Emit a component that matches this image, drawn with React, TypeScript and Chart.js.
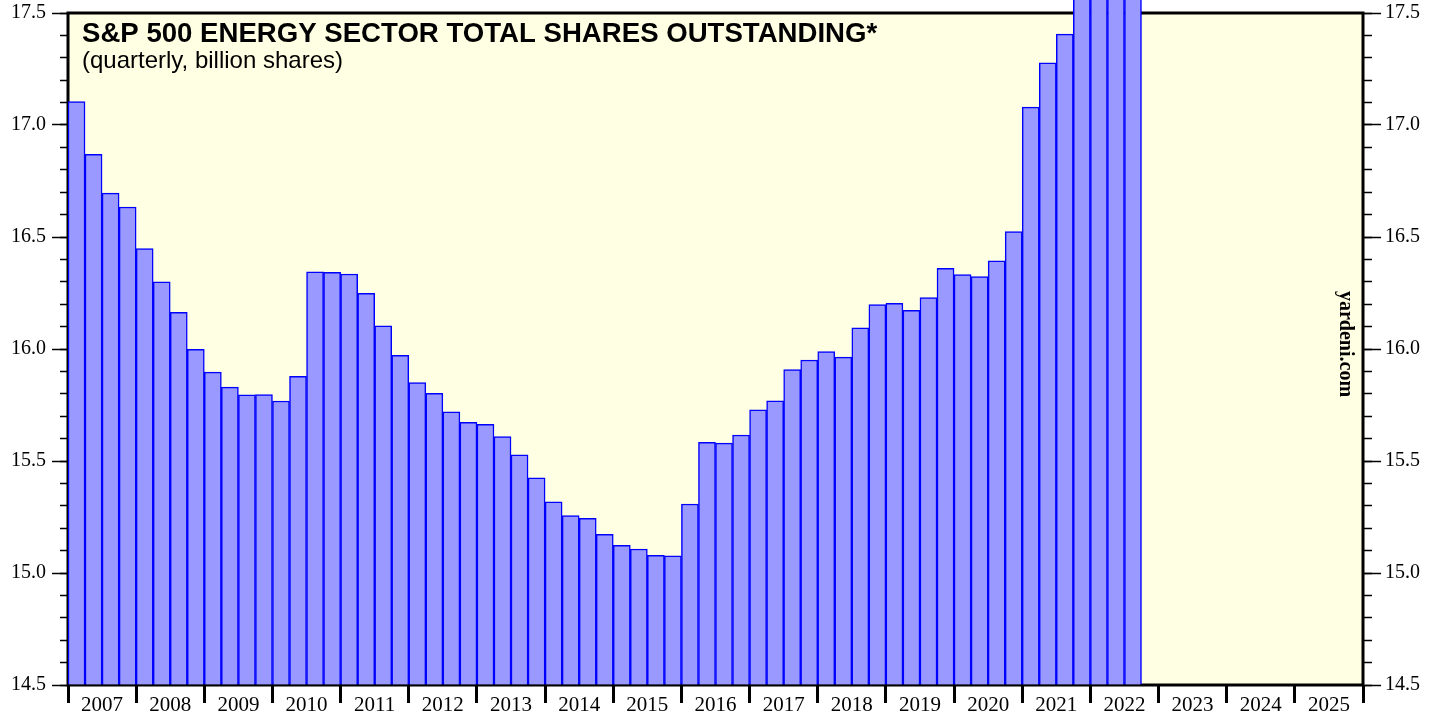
import React, { useEffect, useRef } from "react";
import { Chart, registerables } from "chart.js";

Chart.register(...registerables);

// ---------- data ----------
const years = [2007, 2008, 2009, 2010, 2011, 2012, 2013, 2014, 2015, 2016, 2017, 2018, 2019, 2020, 2021, 2022, 2023, 2024, 2025];
const quarters = ["Q1", "Q2", "Q3", "Q4"];

// S&P 500 Energy sector total shares outstanding (billion shares), 2007 Q1 .. 2022 Q3
const shares = [
  17.104, 16.869, 16.696, 16.634, // 2007
  16.448, 16.300, 16.164, 15.999, // 2008
  15.897, 15.830, 15.795, 15.796, // 2009
  15.768, 15.878, 16.345, 16.342, // 2010
  16.335, 16.249, 16.103, 15.972, // 2011
  15.850, 15.802, 15.720, 15.673, // 2012
  15.664, 15.609, 15.528, 15.425, // 2013
  15.318, 15.256, 15.244, 15.173, // 2014
  15.124, 15.107, 15.079, 15.077, // 2015
  15.308, 15.583, 15.580, 15.616, // 2016
  15.728, 15.769, 15.908, 15.951, // 2017
  15.988, 15.964, 16.095, 16.198, // 2018
  16.204, 16.173, 16.229, 16.360, // 2019
  16.332, 16.323, 16.394, 16.524, // 2020
  17.080, 17.277, 17.406, 17.620, // 2021
  17.700, 17.680, 17.660,         // 2022
];

const yMajorTicks = [14.5, 15.0, 15.5, 16.0, 16.5, 17.0, 17.5];
const yMinorTicks = [
  14.5, 14.6, 14.7, 14.8, 14.9, 15.0, 15.1, 15.2, 15.3, 15.4,
  15.5, 15.6, 15.7, 15.8, 15.9, 16.0, 16.1, 16.2, 16.3, 16.4,
  16.5, 16.6, 16.7, 16.8, 16.9, 17.0, 17.1, 17.2, 17.3, 17.4, 17.5,
];
const yearBoundaries = [2007, 2008, 2009, 2010, 2011, 2012, 2013, 2014, 2015, 2016, 2017, 2018, 2019, 2020, 2021, 2022, 2023, 2024, 2025, 2026];

const titleText = "S&P 500 ENERGY SECTOR TOTAL SHARES OUTSTANDING*";
const subtitleText = "(quarterly, billion shares)";
const sourceText = "yardeni.com";

// ---------- derived tables ----------
const categories = years.flatMap((y) => quarters.map((q) => `${y} ${q}`));
const barData = categories.map((_, i) => (i < shares.length ? shares[i] : null));
const yearLabelPositions = years.map((y) => y + 0.5);

const SERIF = '"Liberation Serif", "Times New Roman", serif';
const SANS = '"Liberation Sans", Arial, sans-serif';

const decorPlugin = {
  id: "decor",
  beforeDraw(chart: any) {
    const { ctx, chartArea: a } = chart;
    ctx.save();
    ctx.fillStyle = "#ffffff";
    ctx.fillRect(0, 0, chart.width, chart.height);
    ctx.fillStyle = "#ffffe3";
    ctx.fillRect(a.left, a.top, a.right - a.left, a.bottom - a.top);
    ctx.restore();
  },
  beforeDatasetsDraw(chart: any) {
    const { ctx, chartArea: a } = chart;
    ctx.save();
    ctx.strokeStyle = "#000000";
    ctx.lineWidth = 3;
    ctx.strokeRect(a.left, a.top, a.right - a.left, a.bottom - a.top);
    ctx.restore();
  },
  afterDraw(chart: any) {
    const { ctx } = chart;
    ctx.save();
    ctx.fillStyle = "#000000";
    ctx.textAlign = "left";
    ctx.textBaseline = "alphabetic";
    ctx.font = `bold 27.6px ${SANS}`;
    ctx.fillText(titleText, 82, 42);
    ctx.font = `24px ${SANS}`;
    ctx.fillText(subtitleText, 82, 68);
    ctx.translate(1345, 344);
    ctx.rotate(Math.PI / 2);
    ctx.textAlign = "center";
    ctx.textBaseline = "middle";
    ctx.font = `bold 20px ${SERIF}`;
    ctx.fillText(sourceText, 0, 0);
    ctx.restore();
  },
};

const setTicks = (values: number[]) => (scale: any) => {
  scale.ticks = values.map((v) => ({ value: v }));
};

const fixSize = (w: number | null, h: number | null) => (s: any) => {
  if (w !== null) s.width = w;
  if (h !== null) s.height = h;
  s.paddingTop = 0;
  s.paddingBottom = 0;
  s.paddingLeft = 0;
  s.paddingRight = 0;
};

export default function App() {
  const ref = useRef<HTMLCanvasElement>(null);

  useEffect(() => {
    document.body.style.margin = "0";
    const canvas = ref.current;
    if (!canvas) return;
    const chart = new Chart(canvas, {
      type: "bar",
      data: {
        labels: categories,
        datasets: [
          {
            data: barData,
            backgroundColor: "#9999ff",
            borderColor: "#0000ff",
            borderWidth: 1.5,
            categoryPercentage: 1,
            barPercentage: 1,
            base: 14.5,
            clip: { left: 0, top: false, right: 0, bottom: 0 },
            xAxisID: "x",
            yAxisID: "y",
          } as any,
        ],
      },
      options: {
        responsive: false,
        animation: false,
        devicePixelRatio: 1,
        layout: { padding: { top: 13, left: 0, right: 0, bottom: 0 } },
        plugins: {
          legend: { display: false },
          tooltip: { enabled: false },
          title: { display: false },
        },
        scales: {
          x: {
            type: "category",
            display: false,
            offset: true,
          },
          y: {
            type: "linear",
            position: "left",
            min: 14.5,
            max: 17.5,
            weight: 1,
            afterBuildTicks: setTicks(yMajorTicks),
            afterFit: fixSize(68, null),
            border: { display: false },
            grid: { drawOnChartArea: false, tickLength: 16, tickWidth: 1.5, tickColor: "#000" },
            ticks: {
              color: "#000",
              padding: 6,
              font: { family: SERIF, size: 20 },
              callback: (v: any) => Number(v).toFixed(1),
            },
          },
          yMinorL: {
            type: "linear",
            position: "left",
            min: 14.5,
            max: 17.5,
            weight: 0,
            afterBuildTicks: setTicks(yMinorTicks),
            afterFit: fixSize(0, null),
            border: { display: false },
            grid: { drawOnChartArea: false, tickLength: 8, tickWidth: 1.5, tickColor: "#000" },
            ticks: { display: false },
          },
          yR: {
            type: "linear",
            position: "right",
            min: 14.5,
            max: 17.5,
            weight: 1,
            afterBuildTicks: setTicks(yMajorTicks),
            afterFit: fixSize(78, null),
            border: { display: false },
            grid: { drawOnChartArea: false, tickLength: 18, tickWidth: 1.5, tickColor: "#000" },
            ticks: {
              color: "#000",
              padding: 4,
              font: { family: SERIF, size: 20 },
              callback: (v: any) => Number(v).toFixed(1),
            },
          },
          yMinorR: {
            type: "linear",
            position: "right",
            min: 14.5,
            max: 17.5,
            weight: 0,
            afterBuildTicks: setTicks(yMinorTicks),
            afterFit: fixSize(0, null),
            border: { display: false },
            grid: { drawOnChartArea: false, tickLength: 9, tickWidth: 1.5, tickColor: "#000" },
            ticks: { display: false },
          },
          xTicks: {
            type: "linear",
            position: "bottom",
            offset: false,
            min: yearBoundaries[0],
            max: yearBoundaries[yearBoundaries.length - 1],
            weight: 0,
            afterBuildTicks: setTicks(yearBoundaries),
            afterFit: fixSize(null, 0),
            border: { display: false },
            grid: { offset: false, drawOnChartArea: false, tickLength: 18, tickWidth: 3, tickColor: "#000" },
            ticks: { display: false },
          },
          xLabels: {
            type: "linear",
            position: "bottom",
            offset: false,
            min: yearBoundaries[0],
            max: yearBoundaries[yearBoundaries.length - 1],
            weight: 1,
            afterBuildTicks: setTicks(yearLabelPositions),
            afterFit: fixSize(null, 34),
            border: { display: false },
            grid: { offset: false, display: false, drawTicks: false },
            ticks: {
              color: "#000",
              padding: 8,
              autoSkip: false,
              maxRotation: 0,
              font: { family: SERIF, size: 21 },
              callback: (_v: any, i: number) => String(years[i]),
            },
          },
        } as any,
      },
      plugins: [decorPlugin],
    });
    return () => chart.destroy();
  }, []);

  return (
    <div style={{ position: "absolute", left: 0, top: 0, width: 1441, height: 719, background: "#fff" }}>
      <canvas ref={ref} width={1441} height={719} style={{ display: "block", width: 1441, height: 719 }} />
    </div>
  );
}
